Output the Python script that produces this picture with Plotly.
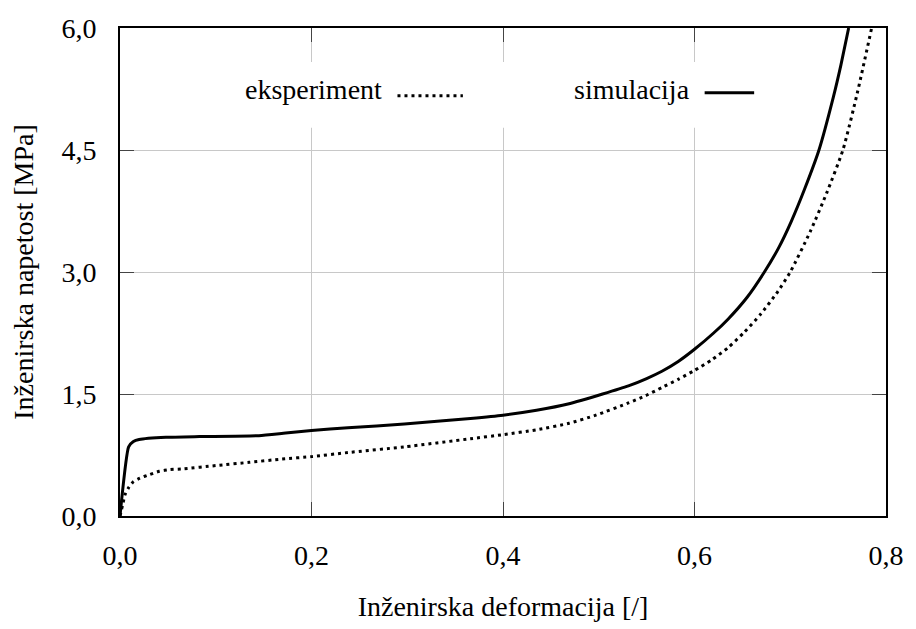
import plotly.graph_objects as go

# Engineering strain [/] and engineering stress [MPa]
eksperiment_strain = [0.0, 0.0028, 0.0052, 0.0086, 0.0138, 0.0207, 0.031, 0.041, 0.052,
                      0.066, 0.100, 0.135, 0.169, 0.200, 0.238, 0.297, 0.366, 0.400,
                      0.435, 0.469, 0.497, 0.531, 0.549, 0.566, 0.583, 0.600, 0.618,
                      0.635, 0.652, 0.669, 0.687, 0.700, 0.721, 0.738, 0.755, 0.770,
                      0.785]
eksperiment_stress = [0.0, 0.14, 0.26, 0.34, 0.42, 0.465, 0.51, 0.55, 0.57,
                      0.58, 0.62, 0.66, 0.70, 0.73, 0.78, 0.85, 0.95, 1.00,
                      1.06, 1.14, 1.24, 1.39, 1.48, 1.58, 1.68, 1.79, 1.92,
                      2.07, 2.26, 2.48, 2.76, 3.00, 3.50, 3.97, 4.50, 5.20,
                      6.00]

simulacija_strain = [0.0, 0.0090, 0.014, 0.020, 0.048, 0.083, 0.145, 0.173, 0.200,
                     0.238, 0.297, 0.366, 0.400, 0.435, 0.469, 0.504, 0.531, 0.550,
                     0.566, 0.583, 0.600, 0.620, 0.635, 0.655, 0.673, 0.688, 0.701,
                     0.715, 0.730, 0.745, 0.753, 0.761]
simulacija_stress = [0.0, 0.85, 0.915, 0.94, 0.967, 0.976, 0.988, 1.02, 1.05,
                     1.085, 1.13, 1.20, 1.24, 1.30, 1.38, 1.50, 1.60, 1.69,
                     1.78, 1.90, 2.05, 2.25, 2.42, 2.69, 3.00, 3.30, 3.62,
                     4.02, 4.50, 5.15, 5.55, 6.00]

x_tickvals = [0.0, 0.2, 0.4, 0.6, 0.8]
x_ticktext = ["0,0", "0,2", "0,4", "0,6", "0,8"]
y_tickvals = [0.0, 1.5, 3.0, 4.5, 6.0]
y_ticktext = ["0,0", "1,5", "3,0", "4,5", "6,0"]

series_names = ["eksperiment", "simulacija"]

FONT = "Liberation Serif"
FS = 28
fig = go.Figure()

fig.add_trace(go.Scatter(
    x=eksperiment_strain, y=eksperiment_stress, mode="lines", name=series_names[0],
    line=dict(color="black", width=3, dash="3px,4px", shape="spline", smoothing=0.6),
))
fig.add_trace(go.Scatter(
    x=simulacija_strain, y=simulacija_stress, mode="lines", name=series_names[1],
    line=dict(color="black", width=3, shape="spline", smoothing=0.5),
))

# In-plot key: white box over the grid, labels followed by line samples
fig.add_shape(type="rect", xref="x", yref="y", x0=0.11, x1=0.70, y0=4.775, y1=5.583,
              fillcolor="white", line=dict(width=0), layer="between")
fig.add_annotation(x=0.2753, y=5.25, xref="x", yref="y", text=series_names[0],
                   showarrow=False, xanchor="right", yanchor="middle",
                   font=dict(family=FONT, size=FS, color="black"))
fig.add_shape(type="line", xref="x", yref="y", x0=0.2898, x1=0.3581, y0=5.167, y1=5.167,
              line=dict(color="black", width=3, dash="3px,4px"))
fig.add_annotation(x=0.597, y=5.25, xref="x", yref="y", text=series_names[1],
                   showarrow=False, xanchor="right", yanchor="middle",
                   font=dict(family=FONT, size=FS, color="black"))
fig.add_shape(type="line", xref="x", yref="y", x0=0.6106, x1=0.6623, y0=5.204, y1=5.204,
              line=dict(color="black", width=3))

axis_common = dict(
    ticks="inside", ticklen=14, tickwidth=1, tickcolor="#444444",
    showline=True, linecolor="black", linewidth=1.6, mirror="ticks",
    showgrid=True, gridcolor="#c8c8c8", gridwidth=1, zeroline=False,
    tickfont=dict(family=FONT, size=FS, color="black"),
)

fig.update_xaxes(range=[0, 0.8], tickmode="array", tickvals=x_tickvals, ticktext=x_ticktext,
                 ticklabelstandoff=14,
                 title=dict(text="Inženirska deformacija [/]", standoff=26,
                            font=dict(family=FONT, size=FS, color="black")),
                 **axis_common)
fig.update_yaxes(range=[0, 6], tickmode="array", tickvals=y_tickvals, ticktext=y_ticktext,
                 ticklabelstandoff=16,
                 title=dict(text="Inženirska napetost [MPa]", standoff=20,
                            font=dict(family=FONT, size=FS, color="black")),
                 **axis_common)

fig.update_layout(
    width=916, height=629,
    margin=dict(l=120, r=23, t=28, b=111),
    plot_bgcolor="white", paper_bgcolor="white",
    showlegend=False,
    font=dict(family=FONT, size=FS, color="black"),
)

fig.write_html("out.html")
